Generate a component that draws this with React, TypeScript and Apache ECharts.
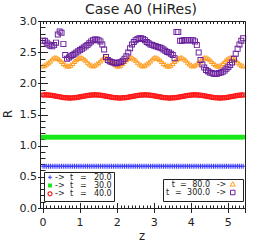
import React, { useEffect, useRef } from "react";
import * as echarts from "echarts";

const zValues = [
  0, 0.05, 0.1, 0.15, 0.2, 0.25, 0.3, 0.35, 0.4, 0.45,
  0.5, 0.55, 0.6, 0.65, 0.7, 0.75, 0.8, 0.85, 0.9, 0.95,
  1, 1.05, 1.1, 1.15, 1.2, 1.25, 1.3, 1.35, 1.4, 1.45,
  1.5, 1.55, 1.6, 1.65, 1.7, 1.75, 1.8, 1.85, 1.9, 1.95,
  2, 2.05, 2.1, 2.15, 2.2, 2.25, 2.3, 2.35, 2.4, 2.45,
  2.5, 2.55, 2.6, 2.65, 2.7, 2.75, 2.8, 2.85, 2.9, 2.95,
  3, 3.05, 3.1, 3.15, 3.2, 3.25, 3.3, 3.35, 3.4, 3.45,
  3.5, 3.55, 3.6, 3.65, 3.7, 3.75, 3.8, 3.85, 3.9, 3.95,
  4, 4.05, 4.1, 4.15, 4.2, 4.25, 4.3, 4.35, 4.4, 4.45,
  4.5, 4.55, 4.6, 4.65, 4.7, 4.75, 4.8, 4.85, 4.9, 4.95,
  5, 5.05, 5.1, 5.15, 5.2, 5.25, 5.3, 5.35, 5.4,
];

// t = 20.0
const rT20 = [
  0.67, 0.67, 0.67, 0.67, 0.67, 0.67, 0.67, 0.67, 0.67, 0.67,
  0.67, 0.67, 0.67, 0.67, 0.67, 0.67, 0.67, 0.67, 0.67, 0.67,
  0.67, 0.67, 0.67, 0.67, 0.67, 0.67, 0.67, 0.67, 0.67, 0.67,
  0.67, 0.67, 0.67, 0.67, 0.67, 0.67, 0.67, 0.67, 0.67, 0.67,
  0.67, 0.67, 0.67, 0.67, 0.67, 0.67, 0.67, 0.67, 0.67, 0.67,
  0.67, 0.67, 0.67, 0.67, 0.67, 0.67, 0.67, 0.67, 0.67, 0.67,
  0.67, 0.67, 0.67, 0.67, 0.67, 0.67, 0.67, 0.67, 0.67, 0.67,
  0.67, 0.67, 0.67, 0.67, 0.67, 0.67, 0.67, 0.67, 0.67, 0.67,
  0.67, 0.67, 0.67, 0.67, 0.67, 0.67, 0.67, 0.67, 0.67, 0.67,
  0.67, 0.67, 0.67, 0.67, 0.67, 0.67, 0.67, 0.67, 0.67, 0.67,
  0.67, 0.67, 0.67, 0.67, 0.67, 0.67, 0.67, 0.67, 0.67,
];

// t = 30.0
const rT30 = [
  1.14, 1.14, 1.14, 1.14, 1.14, 1.14, 1.14, 1.14, 1.14, 1.14,
  1.14, 1.14, 1.14, 1.14, 1.14, 1.14, 1.14, 1.14, 1.14, 1.14,
  1.14, 1.14, 1.14, 1.14, 1.14, 1.14, 1.14, 1.14, 1.14, 1.14,
  1.14, 1.14, 1.14, 1.14, 1.14, 1.14, 1.14, 1.14, 1.14, 1.14,
  1.14, 1.14, 1.14, 1.14, 1.14, 1.14, 1.14, 1.14, 1.14, 1.14,
  1.14, 1.14, 1.14, 1.14, 1.14, 1.14, 1.14, 1.14, 1.14, 1.14,
  1.14, 1.14, 1.14, 1.14, 1.14, 1.14, 1.14, 1.14, 1.14, 1.14,
  1.14, 1.14, 1.14, 1.14, 1.14, 1.14, 1.14, 1.14, 1.14, 1.14,
  1.14, 1.14, 1.14, 1.14, 1.14, 1.14, 1.14, 1.14, 1.14, 1.14,
  1.14, 1.14, 1.14, 1.14, 1.14, 1.14, 1.14, 1.14, 1.14, 1.14,
  1.14, 1.14, 1.14, 1.14, 1.14, 1.14, 1.14, 1.14, 1.14,
];

// t = 40.0
const rT40 = [
  1.819, 1.82, 1.819, 1.817, 1.814, 1.81, 1.805, 1.799, 1.794, 1.788, 1.783, 1.778, 1.774, 1.772, 1.77, 1.77, 1.772, 1.774, 1.778, 1.783, 1.788, 1.794, 1.799, 1.805, 1.81, 1.814, 1.817,
  1.819, 1.82, 1.819, 1.817, 1.814, 1.81, 1.805, 1.799, 1.794, 1.788, 1.783, 1.778, 1.774, 1.772, 1.77, 1.77, 1.772, 1.774, 1.778, 1.783, 1.788, 1.794, 1.799, 1.805, 1.81, 1.814, 1.817,
  1.819, 1.82, 1.819, 1.817, 1.814, 1.81, 1.805, 1.799, 1.794, 1.788, 1.783, 1.778, 1.774, 1.772, 1.77, 1.77, 1.772, 1.774, 1.778, 1.783, 1.788, 1.794, 1.799, 1.805, 1.81, 1.814, 1.817,
  1.819, 1.82, 1.819, 1.817, 1.814, 1.81, 1.805, 1.799, 1.794, 1.788, 1.783, 1.778, 1.774, 1.772, 1.77, 1.77, 1.772, 1.774, 1.778, 1.783, 1.788, 1.794, 1.799, 1.805, 1.81, 1.814, 1.817,
  1.819,
];

// t = 80.0
const rT80 = [
  2.29, 2.30, 2.32, 2.34, 2.37, 2.40, 2.42, 2.42, 2.41, 2.39, 2.36, 2.33, 2.31, 2.29, 2.29, 2.30, 2.33, 2.36, 2.39, 2.41, 2.42, 2.42, 2.40, 2.38, 2.35, 2.32, 2.30,
  2.29, 2.30, 2.32, 2.34, 2.37, 2.40, 2.42, 2.42, 2.41, 2.39, 2.36, 2.33, 2.31, 2.29, 2.29, 2.30, 2.33, 2.36, 2.39, 2.41, 2.42, 2.42, 2.40, 2.38, 2.35, 2.32, 2.30,
  2.29, 2.30, 2.32, 2.34, 2.37, 2.40, 2.42, 2.42, 2.41, 2.39, 2.36, 2.33, 2.31, 2.29, 2.29, 2.30, 2.33, 2.36, 2.39, 2.41, 2.42, 2.42, 2.40, 2.38, 2.35, 2.32, 2.30,
  2.29, 2.30, 2.32, 2.34, 2.37, 2.40, 2.42, 2.42, 2.41, 2.39, 2.36, 2.33, 2.31, 2.29, 2.29, 2.30, 2.33, 2.36, 2.39, 2.41, 2.42, 2.42, 2.40, 2.38, 2.35, 2.32, 2.30,
  2.29,
];

// t = 300.0
const rT300 = [
  2.69, 2.69, 2.66, 2.63, 2.61, 2.60, 2.62, 2.66, 2.79, 2.84,
  2.82, 2.64, 2.46, 2.40, 2.42, 2.44, 2.46, 2.48, 2.50, 2.52,
  2.54, 2.56, 2.58, 2.60, 2.62, 2.65, 2.68, 2.70, 2.71, 2.71,
  2.70, 2.68, 2.63, 2.55, 2.43, 2.38, 2.36, 2.35, 2.34, 2.33,
  2.33, 2.34, 2.35, 2.37, 2.40, 2.44, 2.50, 2.57, 2.63, 2.67,
  2.70, 2.72, 2.73, 2.73, 2.72, 2.70, 2.67, 2.65, 2.63, 2.62,
  2.61, 2.60, 2.59, 2.58, 2.57, 2.55, 2.53, 2.51, 2.50, 2.48,
  2.46, 2.41, 2.83, 2.83, 2.69, 2.69, 2.70, 2.70, 2.70, 2.70,
  2.70, 2.70, 2.68, 2.62, 2.50, 2.38, 2.31, 2.26, 2.22, 2.20,
  2.18, 2.17, 2.16, 2.16, 2.16, 2.17, 2.18, 2.19, 2.21, 2.24,
  2.27, 2.30, 2.34, 2.40, 2.48, 2.56, 2.63, 2.69, 2.73,
];

const xTicks = [0, 1, 2, 3, 4, 5];
const yTicks = [0, 0.5, 1, 1.5, 2, 2.5, 3];

const PLUS = "path://M4,0H6V4H10V6H6V10H4V6H0V4H4Z";
const SQUARE = "path://M0,0H10V10H0ZM1.6,1.6V8.4H8.4V1.6Z";
const TRI = "path://M5,0L10,9L0,9ZM5,2.9L2.4,7.5L7.6,7.5Z";
const CIRCLE =
  "path://M5,0A5,5 0 1,1 5,10A5,5 0 1,1 5,0ZM5,2.6A2.4,2.4 0 1,0 5,7.4A2.4,2.4 0 1,0 5,2.6Z";

const FONT = "DejaVu Sans";
const INK = "#222";
const C_BLUE = "#3a3aff";
const C_GREEN = "#18e818";
const C_RED = "#ff1a1a";
const C_ORANGE = "#ff9a1a";
const C_PURPLE = "#6a1f9c";

const pairs = (vals: number[]) => zValues.map((z, i) => [z, vals[i]]);

export default function App() {
  const ref = useRef<HTMLDivElement>(null);
  useEffect(() => {
    if (!ref.current) return;
    const chart = echarts.init(ref.current, undefined, { renderer: "svg" });
    const xMin = xTicks[0];
    const xMax = 5.45;
    const baseX = {
      type: "value",
      min: xMin,
      max: xMax,
      splitLine: { show: false },
      axisLine: { show: false },
    };
    const tickLine = { color: INK, width: 1 };
    const text = (t: string, x: number, y: number, align: string, size = 8, extra: any = {}) => ({
      type: "text",
      x,
      y,
      z: 20,
      style: {
        text: t,
        fill: INK,
        fontSize: size,
        fontFamily: FONT,
        align,
        verticalAlign: "middle",
      },
      ...extra,
    });
    const L1 = 177.3;
    const L2 = 185.5;
    const L3 = 193.8;
    const R1 = 184.1;
    const R2 = 192.5;
    const option: any = {
      animation: false,
      backgroundColor: "#fff",
      grid: {
        left: 43,
        right: 21,
        top: 21.5,
        bottom: 39,
        outerBoundsMode: "none",
        containLabel: false,
      },
      xAxis: [
        {
          ...baseX,
          position: "bottom",
          interval: xTicks[1] - xTicks[0],
          axisTick: { inside: true, length: 5, lineStyle: tickLine },
          axisLabel: {
            show: true,
            showMaxLabel: false,
            margin: 9,
            fontSize: 11,
            fontFamily: FONT,
            color: INK,
          },
        },
        {
          ...baseX,
          position: "top",
          interval: xTicks[1] - xTicks[0],
          axisTick: { inside: true, length: 5, lineStyle: tickLine },
          axisLabel: { show: false },
        },
        {
          ...baseX,
          position: "bottom",
          interval: 0.1,
          axisTick: { inside: true, length: 2.5, lineStyle: tickLine },
          axisLabel: { show: false },
        },
        {
          ...baseX,
          position: "top",
          interval: 0.1,
          axisTick: { inside: true, length: 2.5, lineStyle: tickLine },
          axisLabel: { show: false },
        },
      ],
      yAxis: [
        {
          type: "value",
          position: "left",
          offset: 3,
          min: yTicks[0],
          max: yTicks[yTicks.length - 1],
          interval: yTicks[1] - yTicks[0],
          splitLine: { show: false },
          axisLine: { show: false },
          axisTick: { inside: true, length: 5, lineStyle: tickLine },
          minorTick: { show: true, splitNumber: 5, length: 2.5, lineStyle: tickLine },
          minorSplitLine: { show: false },
          axisLabel: {
            margin: 3,
            fontSize: 11,
            fontFamily: FONT,
            color: INK,
            formatter: (v: number) => v.toFixed(1),
          },
        },
        {
          type: "value",
          position: "right",
          min: yTicks[0],
          max: yTicks[yTicks.length - 1],
          interval: yTicks[1] - yTicks[0],
          splitLine: { show: false },
          axisLine: { show: false },
          axisTick: { inside: true, length: 5, lineStyle: tickLine },
          minorTick: { show: true, splitNumber: 5, length: 2.5, lineStyle: tickLine },
          minorSplitLine: { show: false },
          axisLabel: { show: false },
        },
      ],
      series: [
        { name: "t = 20.0", data: pairs(rT20), symbol: PLUS, symbolSize: 5, color: C_BLUE },
        { name: "t = 30.0", data: pairs(rT30), symbol: "rect", symbolSize: 4.5, color: C_GREEN },
        { name: "t = 40.0", data: pairs(rT40), symbol: CIRCLE, symbolSize: 5.5, color: C_RED },
        { name: "t = 80.0", data: pairs(rT80), symbol: TRI, symbolSize: 5.5, color: C_ORANGE },
        { name: "t = 300.0", data: pairs(rT300), symbol: SQUARE, symbolSize: 6, color: C_PURPLE },
      ].map((s) => ({
        type: "scatter",
        name: s.name,
        data: s.data,
        symbol: s.symbol,
        symbolSize: s.symbolSize,
        itemStyle: { color: s.color, opacity: 1 },
        xAxisIndex: 0,
        yAxisIndex: 0,
        silent: true,
      })),
      graphic: [
        // plot frame
        {
          type: "rect",
          z: 10,
          shape: { x: 40.5, y: 21.5, width: 205, height: 187 },
          style: { fill: "none", stroke: INK, lineWidth: 1 },
        },
        // title and axis names
        text("Case A0 (HiRes)", 141, 9, "center", 14),
        text("z", 142, 235.5, "center", 11.5),
        text("R", 7.5, 114, "center", 11.5, { rotation: Math.PI / 2 }),
        // left legend box
        {
          type: "rect",
          z: 15,
          shape: { x: 44.5, y: 172.5, width: 70, height: 29 },
          style: { fill: "#fff", stroke: INK, lineWidth: 1 },
        },
        { type: "line", z: 20, shape: { x1: 48, y1: L1, x2: 52, y2: L1 }, style: { stroke: C_BLUE, lineWidth: 1 } },
        { type: "line", z: 20, shape: { x1: 50, y1: L1 - 2, x2: 50, y2: L1 + 2 }, style: { stroke: C_BLUE, lineWidth: 1 } },
        { type: "rect", z: 20, shape: { x: 48, y: L2 - 2, width: 4, height: 4 }, style: { fill: C_GREEN } },
        { type: "circle", z: 20, shape: { cx: 50, cy: L3, r: 2 }, style: { fill: "none", stroke: C_RED, lineWidth: 1.2 } },
        text("->", 55, L1, "left"),
        text("t", 70, L1, "left"),
        text("=", 80, L1, "left"),
        text("20.0", 111.7, L1, "right"),
        text("->", 55, L2, "left"),
        text("t", 70, L2, "left"),
        text("=", 80, L2, "left"),
        text("30.0", 111.7, L2, "right"),
        text("->", 55, L3, "left"),
        text("t", 70, L3, "left"),
        text("=", 80, L3, "left"),
        text("40.0", 111.7, L3, "right"),
        // right legend box
        {
          type: "rect",
          z: 15,
          shape: { x: 163.5, y: 179.5, width: 80, height: 22 },
          style: { fill: "#fff", stroke: INK, lineWidth: 1 },
        },
        text("t", 171.7, R1, "left"),
        text("=", 180, R1, "left"),
        text("80.0", 210, R1, "right"),
        text("->", 216.7, R1, "left"),
        {
          type: "polygon",
          z: 20,
          shape: { points: [[232.7, R1 - 2.4], [235.2, R1 + 2], [230.2, R1 + 2]] },
          style: { fill: "none", stroke: C_ORANGE, lineWidth: 1 },
        },
        text("t", 166, R2, "left"),
        text("=", 175, R2, "left"),
        text("300.0", 210, R2, "right"),
        text("->", 216.7, R2, "left"),
        {
          type: "rect",
          z: 20,
          shape: { x: 230.5, y: R2 - 2.25, width: 4.5, height: 4.5 },
          style: { fill: "none", stroke: C_PURPLE, lineWidth: 1 },
        },
      ],
    };
    chart.setOption(option);
    return () => chart.dispose();
  }, []);
  return (
    <div
      ref={ref}
      style={{ position: "fixed", left: 0, top: 0, width: 266, height: 247 }}
    />
  );
}
